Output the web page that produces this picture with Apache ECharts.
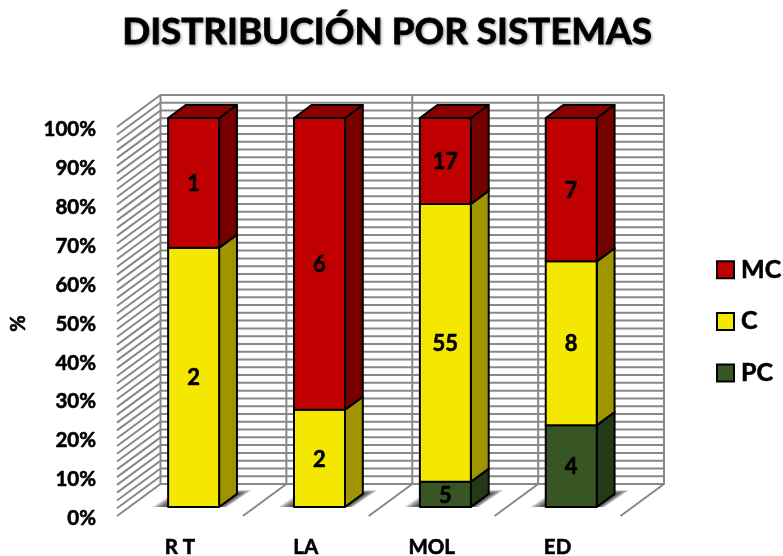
<!DOCTYPE html>
<html>
<head>
<meta charset="utf-8">
<style>html,body{margin:0;padding:0;background:#fff}#chart{width:783px;height:556px}</style>
<script src="https://cdn.jsdelivr.net/npm/echarts@6/dist/echarts.min.js"></script>
</head>
<body>
<div id="chart"></div>
<script>
// Case counts per system
const systems = ['R T', 'LA', 'MOL', 'ED'];
const countsPC = [0, 0, 5, 4];
const countsC = [2, 2, 55, 8];
const countsMC = [1, 6, 17, 7];

const gridSteps = [];
for (let v = 0; v <= 100; v += 2) gridSteps.push(v);
const wallEdges = [1, 2, 3, 4];

// Oblique projection: depth 0 is the front edge of the floor, depth 1 the back wall
const DEPTH_X = 43.5, DEPTH_Y = -32;
const BAR_NEAR = 0.28, BAR_FAR = 0.69, BAR_WIDTH = 0.405, BAR_SHIFT = 1.5;
const FONT = 'Lato, Carlito, Calibri, sans-serif';
const GRID_COLOR = '#888888';
const HEAVY = { textBorderColor: '#000', textBorderWidth: 0.6 };
const SHADOW_LAYERS = 14;

const totals = systems.map((_, i) => countsPC[i] + countsC[i] + countsMC[i]);

function stackRows(own, below) {
  return own.map((n, i) => {
    const start = below.reduce((s, arr) => s + arr[i], 0) / totals[i] * 100;
    return [i, start, start + n / totals[i] * 100, n];
  });
}

const shift = (p, d) => [p[0] + DEPTH_X * d, p[1] + DEPTH_Y * d];

// Left wall and back wall line for one value
function renderGridLine(params, api) {
  const cs = params.coordSys;
  const y = api.coord([0, api.value(1)])[1];
  const a = [cs.x, y];
  return {
    type: 'polyline',
    shape: { points: [a, shift(a, 1), shift([cs.x + cs.width, y], 1)] },
    style: { fill: null, stroke: GRID_COLOR, lineWidth: 2 },
    silent: true
  };
}

// Divider on the floor and the back wall at a category boundary
function renderWallEdge(params, api) {
  const cs = params.coordSys;
  const band = api.size([1, 0])[0];
  const x = cs.x + band * api.value(0);
  const bottom = [x, cs.y + cs.height], top = [x, cs.y];
  return {
    type: 'polyline',
    shape: { points: [bottom, shift(bottom, 1), shift(top, 1)] },
    style: { fill: null, stroke: GRID_COLOR, lineWidth: 2 },
    silent: true
  };
}

function renderLeftEdge(params, api) {
  const cs = params.coordSys;
  return {
    type: 'line',
    shape: { x1: cs.x + DEPTH_X, y1: cs.y + DEPTH_Y, x2: cs.x + DEPTH_X, y2: cs.y + cs.height + DEPTH_Y },
    style: { stroke: GRID_COLOR, lineWidth: 2 },
    silent: true
  };
}

// Soft floor shadow around each column, built from nested translucent layers
function renderFloorShadow(params, api) {
  const center = api.coord([api.value(0), 0]);
  const half = api.size([1, 0])[0] * BAR_WIDTH / 2;
  const front = center[0] + BAR_SHIFT + DEPTH_X * BAR_NEAR;
  const x0 = front - half, x1 = front + half;
  const base = center[1] + DEPTH_Y * BAR_NEAR;
  const inner = [[x0 - 1, base], [x1, base], [x1 + 18, base - 13], [x0 + 18, base - 13]];
  const outer = [[x0 - 16, base], [x1 + 8, base], [x1 + 33, base - 17], [x0 + 10, base - 17]];
  const children = [];
  for (let k = 0; k < SHADOW_LAYERS; k++) {
    const t = 1 - k / (SHADOW_LAYERS - 1);
    children.push({
      type: 'polygon',
      shape: { points: inner.map((p, n) => [p[0] + (outer[n][0] - p[0]) * t, p[1] + (outer[n][1] - p[1]) * t]) },
      style: { fill: 'rgba(0,0,0,0.09)' },
      silent: true
    });
  }
  return { type: 'group', children: children };
}

// One stacked segment of a column: front, side and top faces plus its count
function makeSegment(faces) {
  return function (params, api) {
    if (!api.value(3)) return;
    const i = api.value(0);
    const half = api.size([1, 0])[0] * BAR_WIDTH / 2;
    const lo = api.coord([i, api.value(1)]);
    const hi = api.coord([i, api.value(2)]);
    const x0 = lo[0] + BAR_SHIFT - half, x1 = lo[0] + BAR_SHIFT + half;
    const fl = shift([x0, lo[1]], BAR_NEAR), fr = shift([x1, lo[1]], BAR_NEAR);
    const tl = shift([x0, hi[1]], BAR_NEAR), tr = shift([x1, hi[1]], BAR_NEAR);
    const br = shift([x1, lo[1]], BAR_FAR), ur = shift([x1, hi[1]], BAR_FAR), ul = shift([x0, hi[1]], BAR_FAR);
    const edge = { stroke: '#000', lineWidth: 2, lineJoin: 'round' };
    return {
      type: 'group',
      children: [
        { type: 'polygon', shape: { points: [fr, br, ur, tr] }, style: Object.assign({ fill: faces.side }, edge) },
        { type: 'polygon', shape: { points: [tl, tr, ur, ul] }, style: Object.assign({ fill: faces.top }, edge) },
        { type: 'polygon', shape: { points: [fl, fr, tr, tl] }, style: Object.assign({ fill: faces.front }, edge) },
        {
          type: 'text',
          style: {
            x: (fl[0] + fr[0]) / 2, y: (fl[1] + tl[1]) / 2 + 1,
            text: String(api.value(3)), align: 'center', verticalAlign: 'middle',
            fill: '#000', stroke: '#000', lineWidth: 0.6, font: 'bold 22px ' + FONT
          },
          z2: 10
        }
      ]
    };
  };
}

const rowsPC = stackRows(countsPC, []);
const rowsC = stackRows(countsC, [countsPC]);
const rowsMC = stackRows(countsMC, [countsPC, countsC]);

const chart = echarts.init(document.getElementById('chart'), null, { renderer: 'canvas' });
chart.setOption({
  animation: false,
  backgroundColor: '#fff',
  title: {
    text: 'DISTRIBUCIÓN POR SISTEMAS',
    left: 382, top: 9, textAlign: 'center',
    textStyle: {
      fontFamily: FONT, fontWeight: 'bold', fontSize: 36.8, color: '#000',
      textBorderColor: '#000', textBorderWidth: 0.8,
      textShadowColor: 'rgba(0,0,0,0.35)', textShadowBlur: 3, textShadowOffsetX: 1, textShadowOffsetY: 1
    }
  },
  legend: {
    orient: 'vertical', left: 716, top: 257, padding: 0,
    data: ['MC', 'C', 'PC'],
    itemWidth: 17, itemHeight: 17, itemGap: 26,
    icon: 'rect',
    selectedMode: false,
    itemStyle: { borderColor: '#000', borderWidth: 2 },
    textStyle: Object.assign({ fontFamily: FONT, fontWeight: 'bold', fontSize: 25, color: '#000', padding: [0, 0, 0, 2] }, HEAVY)
  },
  grid: { left: 117, top: 127, width: 503.5, height: 389, outerBoundsMode: 'none' },
  xAxis: {
    type: 'category', data: systems,
    axisLine: { show: false }, axisTick: { show: false }, splitLine: { show: false },
    axisLabel: Object.assign({ margin: 21, fontFamily: FONT, fontWeight: 'bold', fontSize: 20.5, color: '#000', interval: 0 }, HEAVY)
  },
  yAxis: {
    type: 'value', min: 0, max: 100, interval: 10,
    name: '%', nameLocation: 'middle', nameGap: 88, nameRotate: 90,
    nameTextStyle: Object.assign({ fontFamily: FONT, fontWeight: 'bold', fontSize: 20, color: '#000', padding: [0, 4, 0, 0] }, HEAVY),
    axisLine: { show: false }, axisTick: { show: false }, splitLine: { show: false },
    axisLabel: Object.assign({ margin: 21, verticalAlign: 'top', lineHeight: 5, formatter: '{value}%', fontFamily: FONT, fontWeight: 'bold', fontSize: 20.5, color: '#000' }, HEAVY)
  },
  series: [
    { type: 'custom', name: 'gridLines', z: 1, silent: true, renderItem: renderGridLine, data: gridSteps.map(v => [0, v]), encode: { x: 0, y: 1 } },
    { type: 'custom', name: 'wallEdges', z: 1, silent: true, renderItem: renderWallEdge, data: wallEdges.map(v => [v, 0]), encode: { y: 1 } },
    { type: 'custom', name: 'leftEdge', z: 1, silent: true, renderItem: renderLeftEdge, data: [[0, 0]], encode: { x: 0, y: 1 } },
    { type: 'custom', name: 'floorShadow', z: 2, silent: true, renderItem: renderFloorShadow, data: systems.map((_, i) => [i, 0]), encode: { x: 0, y: 1 } },
    {
      type: 'custom', name: 'PC', z: 3, itemStyle: { color: '#375623' },
      renderItem: makeSegment({ front: '#375623', side: '#243A17', top: '#2A4119' }),
      data: rowsPC, encode: { x: 0, y: [1, 2] }
    },
    {
      type: 'custom', name: 'C', z: 4, itemStyle: { color: '#F5E800' },
      renderItem: makeSegment({ front: '#F5E800', side: '#9E9500', top: '#B0A600' }),
      data: rowsC, encode: { x: 0, y: [1, 2] }
    },
    {
      type: 'custom', name: 'MC', z: 5, itemStyle: { color: '#C00000' },
      renderItem: makeSegment({ front: '#C00000', side: '#750000', top: '#8C0000' }),
      data: rowsMC, encode: { x: 0, y: [1, 2] }
    }
  ]
});
</script>
</body>
</html>
